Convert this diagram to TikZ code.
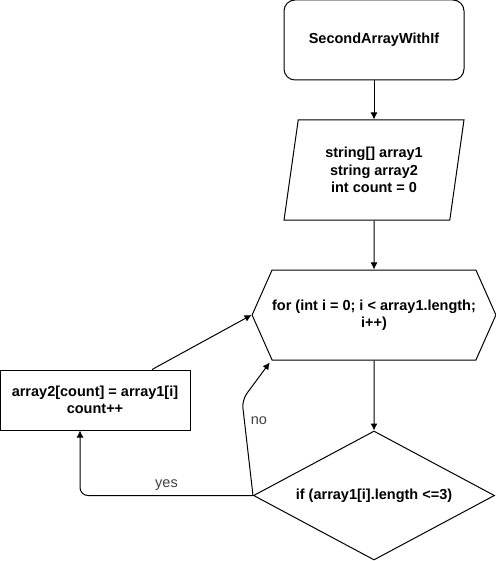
\documentclass[tikz,border=0pt]{standalone}
\usepackage{fontspec}
\setmainfont{Liberation Sans}
\usetikzlibrary{arrows.meta, shapes.geometric, shapes.symbols, calc}

\begin{document}
\begin{tikzpicture}[x = 1pt, y = -1pt, line width = 1pt,
		every node/.style = {font = \fontsize{14.5}{17.5}\selectfont\bfseries, align = center, inner sep = 0},
		box/.style = {draw, rectangle, minimum width = 190pt, minimum height = 60pt},
		startbox/.style = {draw, rectangle, rounded corners = 11pt, minimum width = 180pt, minimum height = 80pt},
		iobox/.style = {draw, trapezium, trapezium left angle = 78.69, trapezium right angle = 101.31, trapezium stretches = true, minimum width = 180pt, minimum height = 100pt},
		loopbox/.style = {draw, signal, signal to = east and west, signal pointer angle = 132.1, minimum width = 241pt, minimum height = 90pt},
		condbox/.style = {draw, diamond, aspect = 1.87, minimum width = 241pt, minimum height = 129pt},
		lbl/.style = {font = \fontsize{14.5}{17.5}\selectfont, text = black!75},
		arr/.style = {draw, -{Latex[length = 7pt, width = 7pt]}}]
	\pgfmathsetmacro{\colx}{374}
	\useasboundingbox (0, 0) rectangle (495, 561);
	\node [startbox] (start) at (\colx, 40) {SecondArrayWithIf};
	\node [iobox] (init) at (\colx, 170) {string[] array1\\string array2\\int count = 0};
	\node [loopbox] (loop) at (\colx, 315) {for (int i = 0; i < array1.length;\\i++)};
	\node [condbox] (cond) at (\colx, 495.5) {if (array1[i].length <=3)};
	\node [box] (body) at (95, 400) {array2[count] = array1[i]\\count++};
	\coordinate (noturn) at (242, 400);
	\draw [arr] (start) -- (init);
	\draw [arr] (init) -- (loop);
	\draw [arr] (loop) -- (cond);
	\draw [arr, rounded corners = 8pt] (cond.west) -| node [lbl, pos = 0.25, above = 4pt] {yes} ([xshift = -15pt]body.south);
	\draw [arr, rounded corners = 8pt] (cond.west) -- node [lbl, pos = 0.78, right = 6pt] {no} (noturn) -- ($(loop.south west) + (-2, 2)$);
	\draw [arr] ([xshift = 57pt]body.north) -- (loop.west);
\end{tikzpicture}
\end{document}
